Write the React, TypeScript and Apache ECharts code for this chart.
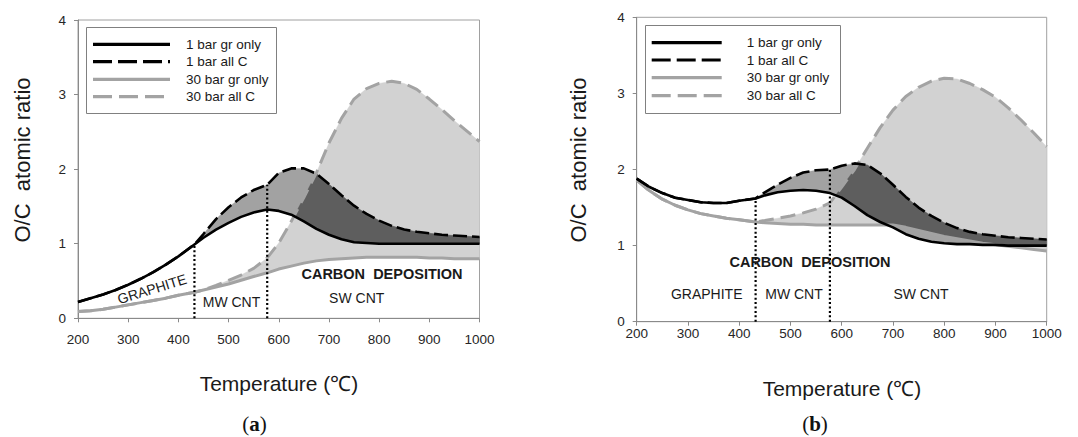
import React, { useEffect, useRef } from "react";
import * as echarts from "echarts";

// ---------- data ----------
const temps = [200, 225, 250, 275, 300, 325, 350, 375, 400, 432, 450, 475, 500, 525, 550, 577, 600, 625, 650, 675, 700, 725, 750, 775, 800, 825, 850, 875, 900, 925, 950, 975, 1000];

// panel (a)
const grOnly1A = [0.22, 0.27, 0.32, 0.38, 0.45, 0.53, 0.62, 0.72, 0.83, 0.99, 1.08, 1.19, 1.28, 1.36, 1.42, 1.46, 1.44, 1.39, 1.3, 1.2, 1.12, 1.06, 1.02, 1.01, 1.0, 1.0, 1.0, 1.0, 1.0, 1.0, 1.0, 1.0, 1.0];
const allC1A = [0.22, 0.27, 0.32, 0.38, 0.45, 0.53, 0.62, 0.72, 0.83, 0.99, 1.13, 1.33, 1.49, 1.62, 1.72, 1.79, 1.95, 2.01, 2.01, 1.94, 1.8, 1.65, 1.51, 1.4, 1.31, 1.24, 1.19, 1.16, 1.14, 1.12, 1.11, 1.1, 1.09];
const grOnly30A = [0.09, 0.1, 0.12, 0.15, 0.18, 0.21, 0.24, 0.27, 0.31, 0.35, 0.38, 0.42, 0.46, 0.51, 0.56, 0.61, 0.66, 0.7, 0.74, 0.77, 0.79, 0.8, 0.81, 0.82, 0.82, 0.82, 0.82, 0.82, 0.81, 0.81, 0.8, 0.8, 0.8];
const allC30A = [0.09, 0.1, 0.12, 0.15, 0.18, 0.21, 0.24, 0.27, 0.31, 0.35, 0.38, 0.44, 0.51, 0.58, 0.67, 0.81, 1.01, 1.3, 1.62, 1.95, 2.35, 2.68, 2.94, 3.08, 3.15, 3.18, 3.15, 3.07, 2.94, 2.8, 2.65, 2.51, 2.37];

// panel (b)
const grOnly1B = [1.88, 1.77, 1.69, 1.63, 1.6, 1.57, 1.56, 1.56, 1.59, 1.62, 1.66, 1.7, 1.72, 1.73, 1.72, 1.69, 1.63, 1.52, 1.4, 1.31, 1.24, 1.15, 1.09, 1.05, 1.03, 1.02, 1.02, 1.01, 1.01, 1.0, 1.0, 1.0, 1.0];
const allC1B = [1.88, 1.77, 1.69, 1.63, 1.6, 1.57, 1.56, 1.56, 1.59, 1.62, 1.7, 1.8, 1.89, 1.96, 1.99, 2.0, 2.05, 2.08, 2.06, 1.95, 1.8, 1.64, 1.5, 1.39, 1.3, 1.23, 1.18, 1.15, 1.13, 1.11, 1.1, 1.09, 1.08];
const grOnly30B = [1.86, 1.72, 1.61, 1.53, 1.47, 1.42, 1.39, 1.36, 1.34, 1.31, 1.3, 1.29, 1.28, 1.28, 1.27, 1.27, 1.27, 1.27, 1.27, 1.27, 1.27, 1.24, 1.2, 1.16, 1.12, 1.09, 1.06, 1.03, 1.01, 0.99, 0.97, 0.95, 0.93];
const allC30B = [1.86, 1.72, 1.61, 1.53, 1.47, 1.42, 1.39, 1.36, 1.34, 1.31, 1.33, 1.36, 1.39, 1.43, 1.48, 1.56, 1.77, 2.0, 2.28, 2.55, 2.78, 2.96, 3.08, 3.16, 3.2, 3.19, 3.13, 3.05, 2.95, 2.81, 2.65, 2.48, 2.3];

const seriesNames = ["1 bar gr only", "1 bar all C", "30 bar gr only", "30 bar all C"];
const regionBounds = [432, 577];
const regionLabels = ["GRAPHITE", "MW CNT", "SW CNT"];
const depositionLabel = "CARBON  DEPOSITION";
const xTitle = "Temperature (\u2103)";
const yTitle = "O/C  atomic ratio";
const captions = ["a", "b"];

// ---------- helpers ----------
const FONT = "'Liberation Sans', Arial, Helvetica, sans-serif";
const SERIF = "'Liberation Serif', 'DejaVu Serif', serif";
const C_LIGHT = "#d2d2d2";
const C_MED = "#a2a2a2";
const C_DARK = "#5e5e5e";
const C_GRAYLINE = "#a3a3a3";

function interp(xs: number[], ys: number[], x: number) {
  for (let i = 0; i < xs.length - 1; i++) {
    if (x >= xs[i] && x <= xs[i + 1]) {
      const t = (x - xs[i]) / (xs[i + 1] - xs[i]);
      return ys[i] + t * (ys[i + 1] - ys[i]);
    }
  }
  return ys[ys.length - 1];
}

function buildBands(g1: number[], a1: number[], g30: number[], a30: number[]) {
  const all = [g1, a1, g30, a30];
  const set: number[] = [...temps];
  for (let i = 0; i < temps.length - 1; i++) {
    for (let p = 0; p < 4; p++) {
      for (let q = p + 1; q < 4; q++) {
        const d0 = all[p][i] - all[q][i];
        const d1 = all[p][i + 1] - all[q][i + 1];
        if (d0 * d1 < 0) {
          set.push(temps[i] + (d0 / (d0 - d1)) * (temps[i + 1] - temps[i]));
        }
      }
    }
  }
  const xs = set.sort((u, v) => u - v);
  const lo30: number[] = [], hi30: number[] = [], lo1: number[] = [], hi1: number[] = [], loO: number[] = [], hiO: number[] = [];
  xs.forEach((x) => {
    const v = all.map((s) => interp(temps, s, x));
    lo30.push(v[2]); hi30.push(Math.max(v[2], v[3]));
    lo1.push(v[0]); hi1.push(Math.max(v[0], v[1]));
    const lo = Math.max(v[0], v[2]);
    loO.push(lo); hiO.push(Math.max(lo, Math.min(v[1], v[3])));
  });
  return { xs, bands: [[lo30, hi30, C_LIGHT], [lo1, hi1, C_MED], [loO, hiO, C_DARK]] as [number[], number[], string][] };
}

function bandSeries(axis: number, xs: number[], lo: number[], hi: number[], fill: string, key: string) {
  return {
    type: "custom",
    name: "band-" + key,
    xAxisIndex: axis,
    yAxisIndex: axis,
    silent: true,
    z: 1,
    data: [[600, 1]],
    encode: { x: 0, y: 1 },
    renderItem: (_params: any, api: any) => {
      const top = xs.map((x, i) => api.coord([x, hi[i]]));
      const bottom = xs.map((x, i) => api.coord([x, lo[i]])).reverse();
      return {
        type: "polygon",
        shape: { points: top.concat(bottom) },
        style: { fill, stroke: fill, lineWidth: 0.4 },
      };
    },
  };
}

function lineSeries(axis: number, name: string, ys: number[], color: string, width: number, dash: any, z: number) {
  return {
    type: "line",
    name,
    xAxisIndex: axis,
    yAxisIndex: axis,
    data: temps.map((t, i) => [t, ys[i]]),
    symbol: "none",
    showSymbol: false,
    silent: true,
    z,
    itemStyle: { color },
    lineStyle: { color, width, type: dash },
  };
}

function panelSeries(axis: number, g1: number[], a1: number[], g30: number[], a30: number[]) {
  const { xs, bands } = buildBands(g1, a1, g30, a30);
  const out: any[] = bands.map((b, k) => bandSeries(axis, xs, b[0], b[1], b[2], axis + "-" + k));
  out.push(lineSeries(axis, seriesNames[2], g30, C_GRAYLINE, 3, "solid", 3));
  out.push(lineSeries(axis, seriesNames[3], a30, C_GRAYLINE, 3, [15, 7], 3));
  out.push(lineSeries(axis, seriesNames[0], g1, "#000", 2.6, "solid", 4));
  out.push(lineSeries(axis, seriesNames[1], a1, "#000", 2.6, [14, 5], 4));
  regionBounds.forEach((b, k) => {
    const h = a1[temps.indexOf(b)];
    out.push({
      type: "line",
      name: "boundary-" + axis + "-" + k,
      xAxisIndex: axis,
      yAxisIndex: axis,
      data: [[b, 0], [b, h]],
      symbol: "none",
      silent: true,
      z: 5,
      lineStyle: { color: "#000", width: 2.2, type: [2, 2.4] },
    });
  });
  return out;
}

const legendStyles = [
  { stroke: "#000", lineDash: null as any },
  { stroke: "#000", lineDash: [19, 6] },
  { stroke: C_GRAYLINE, lineDash: null as any },
  { stroke: C_GRAYLINE, lineDash: [19, 7] },
];

function legendBox(x: number, y: number, w: number, h: number, rows: number[], lx1: number, lx2: number, tx: number) {
  const els: any[] = [
    {
      type: "rect",
      z: 100,
      silent: true,
      shape: { x: x + 0.5, y: y + 0.5, width: w, height: h },
      style: { fill: "#fff", stroke: "#808080", lineWidth: 1 },
    },
  ];
  seriesNames.forEach((name, i) => {
    els.push({
      type: "line",
      z: 101,
      silent: true,
      shape: { x1: lx1, y1: rows[i], x2: lx2, y2: rows[i] },
      style: { stroke: legendStyles[i].stroke, lineWidth: 3.2, lineDash: legendStyles[i].lineDash },
    });
    els.push({
      type: "text",
      z: 101,
      silent: true,
      x: tx,
      y: rows[i],
      style: {
        text: name,
        fill: "#1a1a1a",
        fontSize: 13.5,
        fontFamily: FONT,
        textAlign: "left",
        textVerticalAlign: "middle",
        align: "left",
        verticalAlign: "middle",
      },
    });
  });
  return els;
}

function text(x: number, y: number, t: string, size: number, weight: string = "normal", rotation = 0) {
  return {
    type: "text",
    x,
    y,
    rotation,
    z: 50,
    silent: true,
    style: {
      text: t,
      fill: "#1a1a1a",
      fontSize: size,
      fontWeight: weight,
      fontFamily: FONT,
      textAlign: "center",
      textVerticalAlign: "middle",
      align: "center",
      verticalAlign: "middle",
    },
  };
}

function caption(x: number, y: number, letter: string) {
  return {
    type: "text",
    x,
    y,
    silent: true,
    style: {
      text: "({b|" + letter + "})",
      fill: "#111",
      fontSize: 21,
      fontFamily: SERIF,
      textAlign: "center",
      textVerticalAlign: "middle",
      align: "center",
      verticalAlign: "middle",
      rich: { b: { fontSize: 21, fontFamily: SERIF, fontWeight: "bold", fill: "#111" } },
    },
  };
}

function axisPair(idx: number, labelMarginX: number) {
  const common = {
    gridIndex: idx,
    type: "value",
    axisLine: { show: true, lineStyle: { color: "#8a8a8a", width: 1 } },
    axisTick: { show: true, length: 4, lineStyle: { color: "#8a8a8a" } },
    splitLine: { show: false },
  };
  return {
    x: {
      ...common,
      min: 200,
      max: 1000,
      interval: 100,
      axisLabel: { fontSize: 13.5, color: "#262626", fontFamily: FONT, margin: labelMarginX, formatter: (v: number) => String(v) },
    },
    y: {
      ...common,
      min: 0,
      max: 4,
      interval: 1,
      axisLabel: { fontSize: 13.5, color: "#262626", fontFamily: FONT, margin: 12, formatter: (v: number) => String(v) },
    },
  };
}

export default function App() {
  const ref = useRef<HTMLDivElement>(null);

  useEffect(() => {
    if (!ref.current) return;
    const chart = echarts.init(ref.current, null, { renderer: "svg" });
    const axA = axisPair(0, 14);
    const axB = axisPair(1, 5);
    chart.setOption({
      animation: false,
      backgroundColor: "#fff",
      grid: [
        { left: 78, top: 20, width: 401.5, height: 298.3, show: true, borderColor: "#a0a0a0", borderWidth: 1, backgroundColor: "transparent" },
        { left: 636.7, top: 17.3, width: 410, height: 304.4, show: true, borderColor: "#a0a0a0", borderWidth: 1, backgroundColor: "transparent" },
      ],
      xAxis: [axA.x, axB.x],
      yAxis: [axA.y, axB.y],
      series: [
        ...panelSeries(0, grOnly1A, allC1A, grOnly30A, allC30A),
        ...panelSeries(1, grOnly1B, allC1B, grOnly30B, allC30B),
      ],
      graphic: [
        // panel (a)
        ...legendBox(86, 27, 190, 86, [44.3, 61.7, 79.3, 96.7], 93, 170, 186),
        text(279, 383, xTitle, 21),
        text(22, 160, yTitle, 22, "normal", Math.PI / 2),
        text(152, 289, regionLabels[0], 14, "normal", (17 * Math.PI) / 180),
        text(231.5, 302, regionLabels[1], 14),
        text(356.7, 297.5, regionLabels[2], 14),
        text(382, 274, depositionLabel, 14.5, "bold"),
        caption(254.5, 424, captions[0]),
        // panel (b)
        ...legendBox(645, 25, 195, 88, [42.7, 60, 77.7, 95.7], 651.7, 721.7, 746.7),
        text(842, 388, xTitle, 21),
        text(578, 160, yTitle, 22, "normal", Math.PI / 2),
        text(706.7, 294, regionLabels[0], 14),
        text(794, 294, regionLabels[1], 14),
        text(921, 294, regionLabels[2], 14),
        text(810, 262, depositionLabel, 14.5, "bold"),
        caption(815, 424, captions[1]),
      ],
    });
    return () => chart.dispose();
  }, []);

  return (
    <div
      ref={ref}
      style={{ position: "absolute", left: 0, top: 0, width: 1078, height: 437, background: "#fff" }}
    />
  );
}
